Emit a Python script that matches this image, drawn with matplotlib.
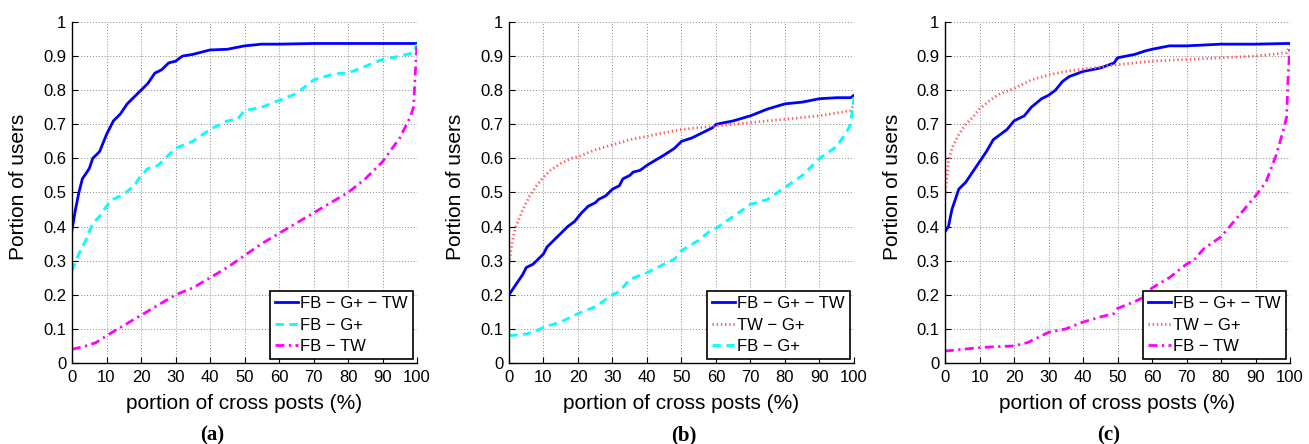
import matplotlib
matplotlib.use("Agg")
import matplotlib.pyplot as plt

plt.rcParams['font.family'] = ['Liberation Sans', 'DejaVu Sans']

# ---------------- Data ----------------
# Panel (a)
a_all_x = [0, 1, 2, 3, 5, 6, 8, 10, 12, 14, 16, 18, 20, 22, 24, 26, 28, 30, 32, 35, 40, 45, 50, 55, 60, 70, 80, 90, 99, 100]
a_all_y = [0.39, 0.45, 0.50, 0.54, 0.57, 0.60, 0.62, 0.67, 0.71, 0.73, 0.76, 0.78, 0.80, 0.82, 0.85, 0.86, 0.88, 0.885, 0.90, 0.905, 0.918, 0.92, 0.93, 0.935, 0.935, 0.937, 0.937, 0.937, 0.937, 0.937]
a_fbg_x = [0, 2, 4, 6, 8, 10, 12, 15, 18, 20, 22, 25, 28, 30, 35, 40, 45, 48, 50, 55, 60, 65, 70, 75, 78, 80, 85, 90, 95, 99, 100]
a_fbg_y = [0.27, 0.32, 0.36, 0.41, 0.43, 0.46, 0.48, 0.495, 0.52, 0.55, 0.57, 0.58, 0.61, 0.63, 0.65, 0.685, 0.71, 0.715, 0.74, 0.75, 0.77, 0.79, 0.83, 0.845, 0.85, 0.85, 0.87, 0.89, 0.90, 0.91, 0.935]
a_fbt_x = [0, 4, 7, 10, 15, 20, 25, 30, 35, 40, 45, 50, 55, 60, 65, 70, 75, 80, 85, 90, 95, 98, 99, 99.5, 100]
a_fbt_y = [0.04, 0.05, 0.06, 0.08, 0.11, 0.14, 0.17, 0.20, 0.22, 0.25, 0.28, 0.315, 0.35, 0.38, 0.41, 0.44, 0.47, 0.50, 0.54, 0.59, 0.66, 0.72, 0.75, 0.85, 0.935]

# Panel (b)
b_all_x = [0, 2, 4, 5, 7, 10, 11, 13, 15, 17, 19, 21, 23, 25, 26, 28, 30, 32, 33, 35, 36, 38, 40, 45, 48, 50, 53, 55, 58, 59, 60, 65, 70, 75, 80, 85, 90, 95, 99, 100]
b_all_y = [0.20, 0.23, 0.26, 0.28, 0.29, 0.32, 0.34, 0.36, 0.38, 0.40, 0.415, 0.44, 0.46, 0.47, 0.48, 0.49, 0.51, 0.52, 0.54, 0.55, 0.56, 0.565, 0.58, 0.61, 0.63, 0.65, 0.66, 0.67, 0.685, 0.69, 0.70, 0.71, 0.725, 0.745, 0.76, 0.765, 0.775, 0.778, 0.778, 0.785]
b_twg_x = [0, 1, 2, 4, 6, 8, 10, 12, 15, 18, 20, 25, 30, 35, 40, 45, 50, 55, 60, 70, 80, 90, 99, 100]
b_twg_y = [0.29, 0.36, 0.40, 0.45, 0.49, 0.52, 0.545, 0.565, 0.585, 0.60, 0.605, 0.625, 0.64, 0.655, 0.665, 0.675, 0.685, 0.69, 0.695, 0.705, 0.715, 0.725, 0.74, 0.76]
b_fbg_x = [0, 5, 8, 10, 15, 20, 25, 30, 32, 35, 40, 45, 48, 50, 55, 58, 60, 65, 70, 75, 80, 85, 90, 95, 98, 99, 100]
b_fbg_y = [0.08, 0.085, 0.095, 0.105, 0.12, 0.145, 0.165, 0.20, 0.21, 0.245, 0.265, 0.29, 0.305, 0.33, 0.36, 0.385, 0.395, 0.43, 0.465, 0.48, 0.515, 0.55, 0.60, 0.635, 0.68, 0.70, 0.78]

# Panel (c)
c_all_x = [0, 1, 2, 3, 4, 6, 8, 10, 12, 14, 16, 18, 20, 23, 25, 28, 30, 32, 34, 36, 40, 45, 49, 50, 55, 58, 60, 65, 70, 80, 90, 99, 100]
c_all_y = [0.385, 0.40, 0.45, 0.48, 0.51, 0.53, 0.56, 0.59, 0.62, 0.655, 0.67, 0.685, 0.71, 0.725, 0.75, 0.775, 0.785, 0.80, 0.825, 0.84, 0.855, 0.865, 0.88, 0.895, 0.905, 0.915, 0.92, 0.93, 0.93, 0.935, 0.935, 0.937, 0.937]
c_twg_x = [0, 1, 2, 4, 6, 8, 10, 13, 16, 20, 25, 30, 35, 40, 45, 50, 55, 60, 70, 80, 90, 99, 100]
c_twg_y = [0.49, 0.59, 0.63, 0.67, 0.70, 0.72, 0.745, 0.77, 0.79, 0.805, 0.83, 0.845, 0.855, 0.862, 0.868, 0.875, 0.88, 0.885, 0.89, 0.895, 0.90, 0.91, 0.93]
c_fbt_x = [0, 5, 10, 15, 20, 24, 28, 30, 35, 40, 45, 49, 50, 55, 58, 60, 65, 70, 72, 75, 80, 85, 90, 93, 96, 98, 99, 99.5, 100]
c_fbt_y = [0.035, 0.04, 0.045, 0.048, 0.05, 0.06, 0.08, 0.09, 0.10, 0.12, 0.135, 0.145, 0.16, 0.18, 0.195, 0.22, 0.25, 0.29, 0.30, 0.335, 0.37, 0.43, 0.49, 0.53, 0.61, 0.68, 0.72, 0.85, 0.93]

x_ticks = list(range(0, 101, 10))
y_ticks = [0, 0.1, 0.2, 0.3, 0.4, 0.5, 0.6, 0.7, 0.8, 0.9, 1]
y_ticklabels = ['0', '0.1', '0.2', '0.3', '0.4', '0.5', '0.6', '0.7', '0.8', '0.9', '1']
panel_labels = ['(a)', '(b)', '(c)']

L_ALL = 'FB − G+ − TW'
L_FBG = 'FB − G+'
L_FBT = 'FB − TW'
L_TWG = 'TW − G+'

# ---------------- Styles ----------------
st_all = dict(color='#0000ff', lw=2.0, ls='-')
st_fbg = dict(color='#00ffff', lw=2.0, ls=(0, (3.0, 2.0)))
st_fbt = dict(color='#ff00ff', lw=2.0, ls=(0, (3.2, 1.6, 0.8, 1.6)))
st_twg = dict(color='#ff6060', lw=2.0, ls=(0, (0.5, 1.0)))

W, H = 1309, 444
fig = plt.figure(figsize=(W / 100, H / 100), dpi=100)

lefts = [72, 509, 945]
ax_w = 345
ax_b = 363
ax_t = 22
ax_h = ax_b - ax_t

axes = []
for lp in lefts:
    ax = fig.add_axes([lp / W, (H - ax_b) / H, ax_w / W, ax_h / H])
    axes.append(ax)

series = [
    [(a_all_x, a_all_y, L_ALL, st_all), (a_fbg_x, a_fbg_y, L_FBG, st_fbg), (a_fbt_x, a_fbt_y, L_FBT, st_fbt)],
    [(b_all_x, b_all_y, L_ALL, st_all), (b_twg_x, b_twg_y, L_TWG, st_twg), (b_fbg_x, b_fbg_y, L_FBG, st_fbg)],
    [(c_all_x, c_all_y, L_ALL, st_all), (c_twg_x, c_twg_y, L_TWG, st_twg), (c_fbt_x, c_fbt_y, L_FBT, st_fbt)],
]

label_x = [212, 684, 1109]

for i, ax in enumerate(axes):
    for xs, ys, lab, st in series[i]:
        ax.plot(xs, ys, label=lab, **st)
    ax.set_xlim(0, 100)
    ax.set_ylim(0, 1)
    ax.set_xticks(x_ticks)
    ax.set_yticks(y_ticks)
    ax.set_yticklabels(y_ticklabels)
    ax.tick_params(direction='in', length=4, width=0.8, labelsize=12, colors='black')
    ax.tick_params(axis='x', pad=5)
    ax.tick_params(axis='y', pad=4)
    ax.grid(True, color='#888888', ls=(0, (1, 2)), lw=0.7)
    ax.spines['top'].set_visible(False)
    ax.spines['right'].set_visible(False)
    ax.spines['left'].set_linewidth(1.0)
    ax.spines['bottom'].set_linewidth(1.0)
    ax.set_xlabel('portion of cross posts (%)', fontsize=15, va='center')
    ax.xaxis.set_label_coords(0.5, -(403 - ax_b) / ax_h)
    ax.set_ylabel('Portion of users', fontsize=15, va='center')
    ax.yaxis.set_label_coords(-(lefts[0] - 19) / ax_w, (ax_b - 187) / ax_h)
    leg = ax.legend(loc='lower right', fontsize=12, frameon=True, fancybox=False,
                    edgecolor='black', framealpha=1, borderpad=0.3, labelspacing=0.38,
                    handlelength=1.4, handletextpad=0.12, borderaxespad=0.25)
    leg.get_frame().set_linewidth(1.2)
    fig.text(label_x[i] / W, (H - 435) / H, panel_labels[i], ha='center', va='center',
             fontsize=15, fontweight='bold', family=['Liberation Serif', 'DejaVu Serif'])

fig.savefig('out.png', dpi=100)
